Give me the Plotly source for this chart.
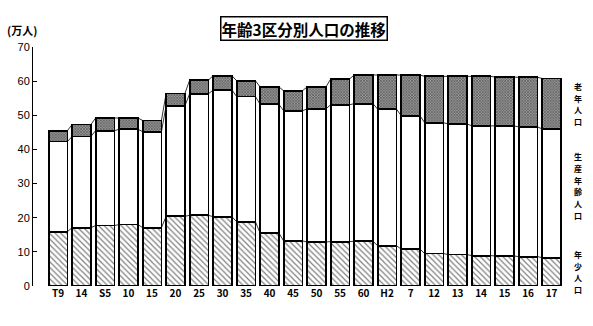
import plotly.graph_objects as go

labels = ["T9", "14", "S5", "10", "15", "20", "25", "30", "35", "40", "45",
          "50", "55", "60", "H2", "7", "12", "13", "14", "15", "16", "17"]
# cumulative boundaries (万人)
young = [15.9, 17.1, 17.7, 18.0, 17.1, 20.4, 20.7, 20.3, 18.8, 15.5, 13.2,
         12.9, 13.0, 13.1, 11.8, 10.8, 9.5, 9.2, 8.9, 8.8, 8.6, 8.3]
young_plus_working = [42.3, 43.8, 45.5, 45.9, 45.2, 52.8, 56.3, 57.4, 55.5, 53.2, 51.3,
                      51.9, 53.1, 53.4, 51.8, 49.9, 47.8, 47.5, 46.9, 46.9, 46.6, 46.0]
total = [45.5, 47.3, 49.2, 49.2, 48.5, 56.4, 60.3, 61.6, 60.1, 58.3, 57.2,
         58.3, 60.6, 61.8, 61.8, 61.8, 61.4, 61.4, 61.4, 61.2, 61.1, 60.8]

working = [round(b - a, 2) for a, b in zip(young, young_plus_working)]
old = [round(b - a, 2) for a, b in zip(young_plus_working, total)]

x = list(range(len(labels)))
W = 0.8
FONT = "Noto Sans CJK JP"

fig = go.Figure()
line = dict(color="black", width=1.8)
fig.add_bar(x=x, y=young, width=W, name="年少人口",
            marker=dict(color="white", line=line,
                        pattern=dict(shape="\\", size=4, solidity=0.3,
                                     fgcolor="black", bgcolor="white")))
fig.add_bar(x=x, y=working, width=W, name="生産年齢人口",
            marker=dict(color="white", line=line))
fig.add_bar(x=x, y=old, width=W, name="老年人口",
            marker=dict(color="white", line=line,
                        pattern=dict(shape="x", size=2, solidity=0.5,
                                     fgcolor="black", bgcolor="#9a9a9a")))

# series lines between adjacent bars
for series in (young, young_plus_working, total):
    xs, ys = [], []
    for i in range(len(x) - 1):
        xs += [x[i] + W / 2, x[i + 1] - W / 2, None]
        ys += [series[i], series[i + 1], None]
    fig.add_scatter(x=xs, y=ys, mode="lines", line=dict(color="black", width=0.8),
                    hoverinfo="skip", showlegend=False)

fig.update_layout(
    barmode="stack",
    width=593, height=326,
    margin=dict(l=33, r=28, t=47, b=40),
    plot_bgcolor="white", paper_bgcolor="white",
    showlegend=False,
    font=dict(family=FONT, color="black", size=11),
)
fig.update_xaxes(range=[-1.064, 21.57], tickvals=x, ticktext=labels,
                 showline=False, showgrid=False, ticks="", zeroline=False,
                 tickfont=dict(family=FONT, size=10, weight="bold"))
fig.update_yaxes(range=[0, 70], dtick=10, showline=True, linecolor="black",
                 linewidth=1, ticks="inside", ticklen=4, tickcolor="black",
                 showgrid=False, zeroline=False,
                 tickfont=dict(family="Liberation Sans", size=11))

fig.add_annotation(text="<b>年齢3区分別人口の推移</b>", xref="paper", yref="paper",
                   x=(304 - 33) / 532, y=(326 - 29 - 40) / 239, xanchor="center", yanchor="middle",
                   showarrow=False, font=dict(family=FONT, size=15.5),
                   bordercolor="black", borderwidth=1.5, borderpad=0, bgcolor="white")
fig.add_annotation(text="<b>(万人)</b>", xref="paper", yref="paper",
                   x=(5 - 33) / 532, y=(326 - 30 - 40) / 239, xanchor="left", yanchor="middle",
                   showarrow=False, font=dict(family=FONT, size=11))

PITCH = 11.8
side = [("老年人口", 104), ("生産年齢人口", 186), ("年少人口", 272)]
for txt, yc in side:
    n = len(txt)
    for k, ch in enumerate(txt):
        yk = yc + (k - (n - 1) / 2) * PITCH
        fig.add_annotation(text="<b>" + ch + "</b>", xref="paper", yref="paper",
                           x=(578 - 33) / 532, y=(326 - yk - 40) / 239,
                           xanchor="center", yanchor="middle", showarrow=False,
                           font=dict(family=FONT, size=8), borderpad=0)

fig.write_html("out.html")
